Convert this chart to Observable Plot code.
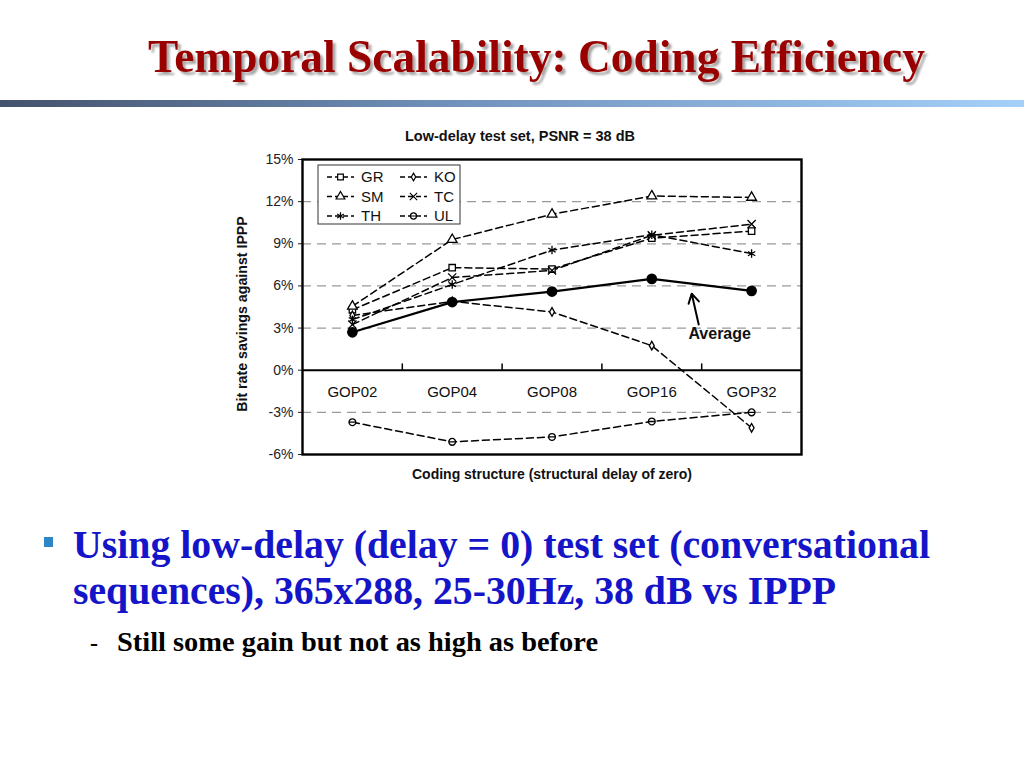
<!DOCTYPE html>
<html><head><meta charset="utf-8">
<script src="https://cdn.jsdelivr.net/npm/d3@7"></script>
<script src="https://cdn.jsdelivr.net/npm/@observablehq/plot@0.6"></script>
<style>
body{margin:0;background:#fff;}
#page{position:relative;width:1024px;height:768px;overflow:hidden;background:#fff;}
#deco{position:absolute;left:0;top:0;}
#chart{position:absolute;left:0;top:120px;width:1024px;}
.serif{font-family:"Liberation Serif","Times New Roman",serif;font-weight:bold;}
</style></head><body><div id="page">
<svg id="deco" width="1024" height="768">
  <defs>
    <linearGradient id="bar" x1="0" x2="1" y1="0" y2="0">
      <stop offset="0" stop-color="#44526c"/>
      <stop offset="0.45" stop-color="#7192bd"/>
      <stop offset="1" stop-color="#a4d0fa"/>
    </linearGradient>
    <filter id="sh" x="-5%" y="-20%" width="110%" height="150%">
      <feDropShadow dx="3" dy="3" stdDeviation="1.2" flood-color="#000" flood-opacity="0.35"/>
    </filter>
  </defs>
  <text class="serif" x="148" y="72" textLength="777" lengthAdjust="spacingAndGlyphs" font-size="47" fill="#990000" filter="url(#sh)">Temporal Scalability: Coding Efficiency</text>
  <rect x="0" y="100" width="1024" height="7" fill="url(#bar)"/>
  <rect x="44" y="537" width="9" height="10" fill="#2f86c6"/>
  <text class="serif" x="73" y="558" textLength="857" lengthAdjust="spacingAndGlyphs" font-size="39" fill="#1414c8">Using low-delay (delay = 0) test set (conversational</text>
  <text class="serif" x="73" y="604" textLength="763" lengthAdjust="spacingAndGlyphs" font-size="39" fill="#1414c8">sequences), 365x288, 25-30Hz, 38 dB vs IPPP</text>
  <text class="serif" x="90" y="651" font-size="24" fill="#000">-</text>
  <text class="serif" x="117" y="651" textLength="481" lengthAdjust="spacingAndGlyphs" font-size="27" fill="#000">Still some gain but not as high as before</text>
</svg>
<div id="chart"></div>
</div>
<script>
// ---- data ----
const categories = ["GOP02", "GOP04", "GOP08", "GOP16", "GOP32"];
const GR = [4.3, 7.3, 7.2, 9.4, 9.9];
const KO = [3.9, 4.9, 4.15, 1.75, -4.1];
const SM = [4.55, 9.3, 11.1, 12.4, 12.3];
const TC = [3.25, 6.6, 7.1, 9.6, 10.4];
const TH = [3.6, 6.1, 8.55, 9.65, 8.3];
const UL = [-3.7, -5.1, -4.75, -3.65, -3.0];
const average = [2.7, 4.85, 5.6, 6.5, 5.65];
const yTicks = [-6, -3, 0, 3, 6, 9, 12, 15];
const seriesNames = ["GR", "KO", "SM", "TC", "TH", "UL"];
const annotation = [{label: "Average", x: 3.68, y: 2.62, x1: 3.47, y1: 3.25, x2: 3.40, y2: 5.45}];

// ---- symbols ----
const circleMinus = {
  draw(ctx, size) {
    const r = Math.sqrt(size / Math.PI);
    ctx.moveTo(r, 0);
    ctx.arc(0, 0, r, 0, 2 * Math.PI);
    ctx.moveTo(-r, 0);
    ctx.lineTo(r, 0);
  }
};
const symbolOf = {
  GR: {sym: d3.symbolSquare, r: 3.6, fill: "white"},
  KO: {sym: d3.symbolDiamond, r: 2.6, fill: "white"},
  SM: {sym: d3.symbolTriangle, r: 3.6, fill: "white"},
  TC: {sym: d3.symbolTimes, r: 3.8, fill: "none"},
  TH: {sym: d3.symbolAsterisk, r: 4.0, fill: "none"},
  UL: {sym: circleMinus, r: 3.4, fill: "white"}
};
const valuesOf = {GR, KO, SM, TC, TH, UL};

const table = [];
seriesNames.forEach(name => valuesOf[name].forEach((v, i) => table.push({series: name, i, v})));
const avgTable = average.map((v, i) => ({i, v}));
const boundaries = categories.slice(1).map((_, i) => i + 0.5);
const gridTicks = yTicks.filter(t => t !== 0 && t !== yTicks[0] && t !== yTicks[yTicks.length - 1]);
const catTable = categories.map((c, i) => ({c, i}));

const marks = [
  Plot.ruleY(gridTicks, {stroke: "#9a9a9a", strokeWidth: 1.3, strokeDasharray: "9,6"}),
  Plot.ruleY([0], {stroke: "#000", strokeWidth: 2}),
  Plot.ruleX(boundaries, {y1: 0, y2: 0.45, stroke: "#000", strokeWidth: 1.5}),
  Plot.text(catTable, {x: "i", y: 0, dy: 22, text: "c", fontSize: 15, fill: "#111"})
];
seriesNames.forEach(name => {
  const rows = table.filter(d => d.series === name);
  marks.push(Plot.line(rows, {x: "i", y: "v", stroke: "#000", strokeWidth: 1.5, strokeDasharray: "7,4"}));
});
seriesNames.forEach(name => {
  const rows = table.filter(d => d.series === name);
  const s = symbolOf[name];
  marks.push(Plot.dot(rows, {x: "i", y: "v", symbol: s.sym, r: s.r, stroke: "#000", strokeWidth: 1.3, fill: s.fill}));
});
marks.push(
  Plot.line(avgTable, {x: "i", y: "v", stroke: "#000", strokeWidth: 2.2}),
  Plot.dot(avgTable, {x: "i", y: "v", r: 4.6, fill: "#000", stroke: "#000"}),
  Plot.arrow(annotation, {x1: "x1", y1: "y1", x2: "x2", y2: "y2", stroke: "#000", strokeWidth: 2, headLength: 11}),
  Plot.text(annotation, {x: "x", y: "y", text: "label", fontSize: 16, fontWeight: "bold", fill: "#111"}),
  Plot.text(["Low-delay test set, PSNR = 38 dB"], {frameAnchor: "top", lineAnchor: "middle", dy: -23, dx: -32, fontSize: 14.5, fontWeight: "bold", fill: "#111"}),
  Plot.text(["Coding structure (structural delay of zero)"], {frameAnchor: "bottom", lineAnchor: "middle", dy: 20, fontSize: 14, fontWeight: "bold", fill: "#111"}),
  Plot.text(["Bit rate savings against IPPP"], {frameAnchor: "left", textAnchor: "middle", lineAnchor: "middle", dx: -60, dy: 7, rotate: -90, fontSize: 14.2, fontWeight: "bold", fill: "#111"}),
  Plot.frame({stroke: "#000", strokeWidth: 2.4})
);

const chart = Plot.plot({
  width: 1024,
  height: 370,
  marginLeft: 302,
  marginRight: 223,
  marginTop: 39,
  marginBottom: 36,
  style: {fontFamily: "'Liberation Sans', Arial, sans-serif", fontSize: "14px", color: "#222", background: "transparent"},
  x: {domain: [-0.5, 4.5], axis: null},
  y: {domain: [-6, 15], ticks: yTicks, tickFormat: d => d + "%", tickSize: 4, label: null},
  marks
});
document.getElementById("chart").appendChild(chart);

// ---- legend (inside frame, top-left) ----
const svg = d3.select(chart);
const lg = svg.append("g").attr("class", "legend");
lg.append("rect").attr("x", 318).attr("y", 45).attr("width", 142).attr("height", 59)
  .attr("fill", "white").attr("stroke", "#333").attr("stroke-width", 1);
seriesNames.forEach((name, k) => {
  const col = k % 2, row = Math.floor(k / 2);
  const x0 = 327 + col * 73, y0 = 57 + row * 19.5;
  const s = symbolOf[name];
  lg.append("line").attr("x1", x0).attr("x2", x0 + 27).attr("y1", y0).attr("y2", y0)
    .attr("stroke", "#000").attr("stroke-width", 1.3).attr("stroke-dasharray", "5,3");
  lg.append("path").attr("transform", `translate(${x0 + 13.5},${y0})`)
    .attr("d", d3.symbol().type(s.sym).size(Math.PI * s.r * s.r * 0.8)())
    .attr("fill", s.fill).attr("stroke", "#000").attr("stroke-width", 1.2);
  lg.append("text").attr("x", x0 + 34).attr("y", y0).attr("dy", "0.36em")
    .attr("text-anchor", "start").attr("font-size", 15).attr("fill", "#111").text(name);
});
</script>
</body></html>
